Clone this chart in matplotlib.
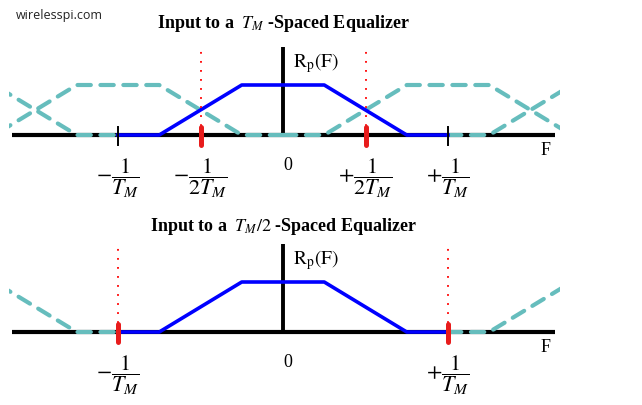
import numpy as np
import matplotlib.pyplot as plt
from matplotlib.patches import Rectangle

plt.rcParams['mathtext.fontset'] = 'stix'
plt.rcParams['font.family'] = 'Liberation Serif'

# Spectrum R_p(F), frequency in units of 1/T_M
pulse_f = np.array([-1.0, -0.75, -0.25, 0.25, 0.75, 1.0])
pulse_amp = np.array([0, 0, 1, 1, 0, 0])

# spectral copies (shifts in units of 1/T_M)
shifts_top = [-2, -1, 1, 2]      # T_M spaced: copies at k/T_M
shifts_bottom = [-2, 2]          # T_M/2 spaced: copies at 2k/T_M

# red markers (fold frequency)
fold_top = [-0.5, 0.5]
fold_bottom = [-1.0, 1.0]
black_ticks_top = [-1.0, 1.0]

labels_top = [(-1.0, r'$-\dfrac{1}{T_M}$'), (-0.5, r'$-\dfrac{1}{2T_M}$'),
              (0.5, r'$+\dfrac{1}{2T_M}$'), (1.0, r'$+\dfrac{1}{T_M}$')]
labels_bottom = [(-1.0, r'$-\dfrac{1}{T_M}$'), (1.0, r'$+\dfrac{1}{T_M}$')]

title_top = r'Input to a $\ T_M\ $-Spaced Equalizer'
title_bottom = r'Input to a $\ T_M/2\ $-Spaced Equalizer'

TEAL = '#66bdbd'
W, H = 642, 406
PX0, PXU = 283, 165          # pixel of F=0, pixels per 1/T_M
PYU = 50                     # pixels per unit height


def draw_panel(ax, shifts, folds, ticks, labels, title, dot_top, title_y):
    ax.axis('off')
    # main axes
    ax.plot([-1.64, 1.65], [0, 0], color='black', lw=3.0, zorder=1,
            solid_capstyle='butt')
    ax.plot([0, 0], [0, 1.77], color='black', lw=2.8, zorder=1,
            solid_capstyle='butt')
    clip = Rectangle((-1.66, -1), 3.34, 4, transform=ax.transData)
    for s in shifts:
        ln, = ax.plot(pulse_f + s, pulse_amp, color=TEAL, lw=3.0,
                      dashes=(3.2, 2.3), dash_capstyle='round', zorder=2)
        ln.set_clip_path(clip)
    ax.plot(pulse_f, pulse_amp, color='blue', lw=2.6, zorder=3)
    for f in folds:
        ax.plot([f, f], [0, dot_top], color='red', lw=1.3,
                linestyle=(0, (1.0, 4.0)), zorder=4)
        ax.plot([f, f], [-0.2, 0.16], color='#e81c1c', lw=3.6,
                solid_capstyle='round', zorder=5)
    for f in ticks:
        ax.plot([f, f], [-0.2, 0.16], color='black', lw=1.4, zorder=5)
    for f, lab in labels:
        ax.text(f, -0.84, lab, ha='center', va='center', fontsize=16)
    ax.text(0.03, -0.6, '0', ha='center', va='center', fontsize=13)
    ax.text(0.06, 1.45, r'$\mathrm{R_p(F)}$', ha='left', va='center',
            fontsize=14)
    ax.text(1.59, -0.29, 'F', ha='center', va='center', fontsize=13)
    ax.text(0, title_y, title, ha='center', va='center', fontsize=13,
            fontweight='bold')


fig = plt.figure(figsize=(W / 100, H / 100), dpi=100)

# top panel: pixel rows 0..200, baseline at 136
ax1 = fig.add_axes([0, 206 / H, 1, 200 / H])
ax1.set_xlim((0 - PX0) / PXU, (W - PX0) / PXU)
ax1.set_ylim((136 - 200) / PYU, 136 / PYU)
draw_panel(ax1, shifts_top, fold_top, black_ticks_top, labels_top,
           title_top, 1.72, 2.26)

# bottom panel: pixel rows 200..406, baseline at 333
ax2 = fig.add_axes([0, 0, 1, 206 / H])
ax2.set_xlim((0 - PX0) / PXU, (W - PX0) / PXU)
ax2.set_ylim((333 - 406) / PYU, (333 - 200) / PYU)
draw_panel(ax2, shifts_bottom, fold_bottom, [], labels_bottom,
           title_bottom, 1.70, 2.13)

fig.text(16 / W, 1 - 15 / H, 'wirelesspi.com', ha='left', va='center',
         fontsize=9, family='Open Sans', color='#222222')

fig.savefig('out.png', dpi=100)
